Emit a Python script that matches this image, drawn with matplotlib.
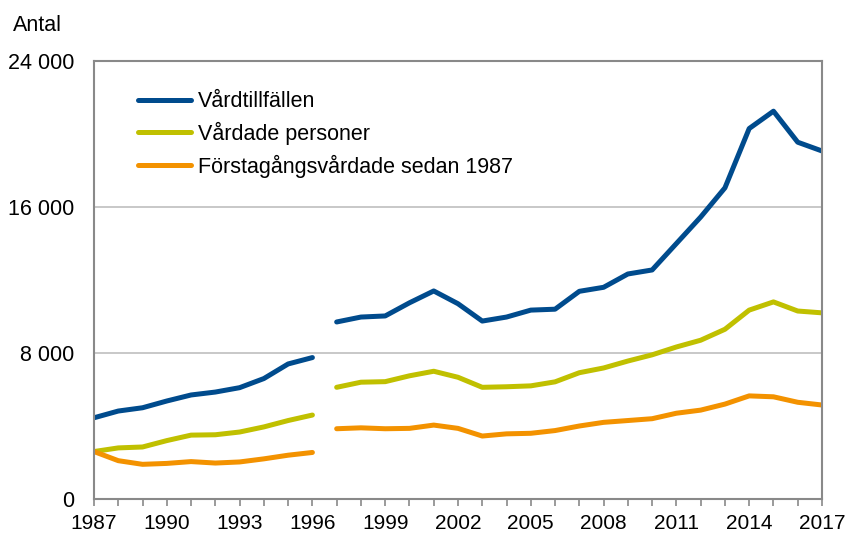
import numpy as np
import matplotlib.pyplot as plt
from matplotlib.ticker import FuncFormatter

plt.rcParams['font.family'] = ['Liberation Sans', 'DejaVu Sans']

years = list(range(1987, 2018))

vardtillfallen = [4450, 4820, 5000, 5370, 5700, 5860, 6100, 6600, 7400, 7750,
                  9700, 9970, 10030, 10750, 11400, 10700, 9750, 9970, 10350, 10400,
                  11380, 11600, 12330, 12550, 14000, 15450, 17050, 20300, 21250, 19550, 19070]
vardade = [2600, 2800, 2850, 3200, 3500, 3520, 3670, 3950, 4300, 4600,
           6120, 6400, 6430, 6750, 7000, 6670, 6120, 6150, 6200, 6420,
           6920, 7180, 7560, 7900, 8330, 8700, 9300, 10350, 10800, 10300, 10200]
forstagangs = [2600, 2100, 1900, 1950, 2050, 1970, 2030, 2200, 2400, 2550,
               3850, 3900, 3850, 3870, 4050, 3870, 3450, 3570, 3600, 3750,
               4000, 4200, 4300, 4400, 4700, 4870, 5200, 5650, 5600, 5300, 5150]

labels = ["Vårdtillfällen", "Vårdade personer", "Förstagångsvårdade sedan 1987"]
colors = ["#004B8D", "#C0C000", "#F39200"]

fig = plt.figure(figsize=(8.47, 5.36), dpi=100)
ax = fig.add_axes([94/847, 1-499/536, 728/847, 438/536])

# break in the series between 1996 and 1997
cut = years.index(1997)
for vals, lab, col in zip([vardtillfallen, vardade, forstagangs], labels, colors):
    ax.plot(years[:cut], vals[:cut], color=col, lw=3.6, solid_capstyle='round', label=lab)
    ax.plot(years[cut:], vals[cut:], color=col, lw=3.6, solid_capstyle='round')

ax.set_xlim(1987, 2017)
ax.set_ylim(0, 24000)
ax.set_yticks([0, 8000, 16000, 24000])
ax.yaxis.set_major_formatter(FuncFormatter(lambda v, p: f"{int(v):,}".replace(",", " ")))
ax.set_xticks(years, minor=True)
ax.set_xticks(years[::3])

ax.grid(axis='y', color='#BFBFBF', lw=1.2)
ax.set_axisbelow(True)
for s in ax.spines.values():
    s.set_color('#898989')
    s.set_linewidth(1.5)

ax.tick_params(axis='y', length=0, pad=14, labelsize=15.5)
ax.tick_params(axis='x', which='both', direction='out', length=5, width=1.2,
               color='#898989', pad=6, labelsize=15)

leg = ax.legend(loc='upper left', bbox_to_anchor=(0.06, 0.931), frameon=False,
                fontsize=15.5, handlelength=2.5, handletextpad=0.3, labelspacing=0.45,
                borderpad=0, borderaxespad=0)

fig.text(13/847, 1-31/536, "Antal", fontsize=15.5, va='baseline', ha='left')

plt.savefig("out.png", dpi=100)
